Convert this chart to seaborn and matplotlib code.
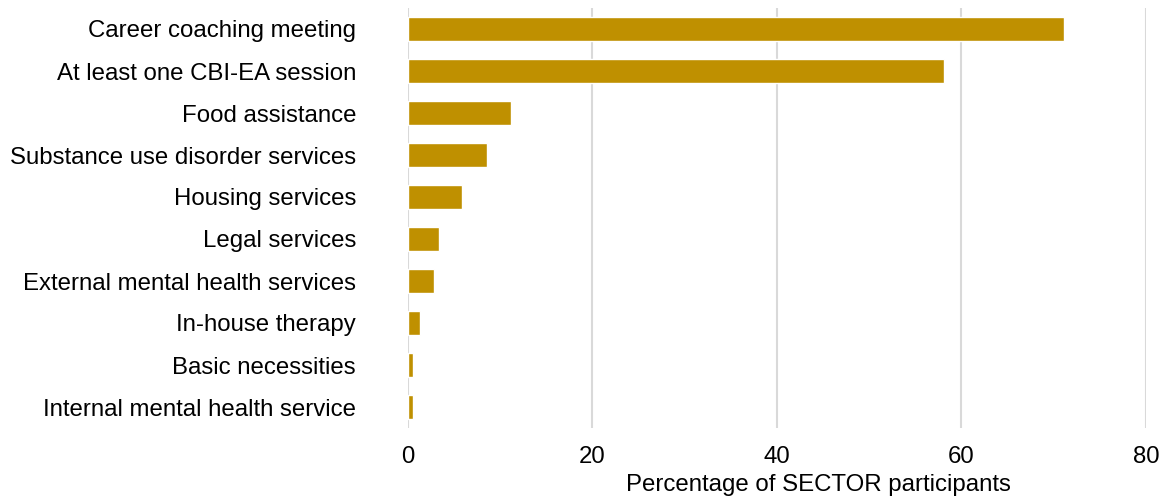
import matplotlib
matplotlib.use("Agg")
import matplotlib.pyplot as plt
import seaborn as sns
import pandas as pd

# Categorias e valores (percentual de participantes)
servicos = ["Career coaching meeting",
            "At least one CBI-EA session",
            "Food assistance",
            "Substance use disorder services",
            "Housing services",
            "Legal services",
            "External mental health services",
            "In-house therapy",
            "Basic necessities",
            "Internal mental health service"]
percentuais = [71.1, 58.1, 11.2, 8.6, 5.9, 3.4, 2.9, 1.4, 0.55, 0.55]
ticks_x = [0, 20, 40, 60, 80]

df = pd.DataFrame({"Servico": servicos, "Percentual": percentuais})

# Estilo do fundo
sns.set_theme(style="white")
plt.rcParams["font.family"] = ["Liberation Sans", "DejaVu Sans"]

fig = plt.figure(figsize=(11.6, 5), dpi=100)
ax = fig.add_axes([0.3513, 0.144, 0.6367, 0.84])

sns.barplot(data=df, x="Percentual", y="Servico", color="#BF9000",
            width=0.57, saturation=1, ax=ax, zorder=3)

# Eixos e grade
ax.set_xlim(0, 80)
ax.set_xticks(ticks_x)
ax.grid(axis="x", color="#D9D9D9", linewidth=1.5, zorder=0)
ax.set_axisbelow(True)
sns.despine(ax=ax, left=True, bottom=True)
ax.tick_params(axis="y", length=0, pad=37, labelsize=17.3, colors="black")
ax.tick_params(axis="x", length=0, pad=13, labelsize=17.3, colors="black")

# Rotulos
ax.set_ylabel("")
ax.set_xlabel("Percentage of SECTOR participants", fontsize=17.3, labelpad=4, color="black")
ax.xaxis.label.set_x(0.556)

fig.savefig("out.png", dpi=100)
